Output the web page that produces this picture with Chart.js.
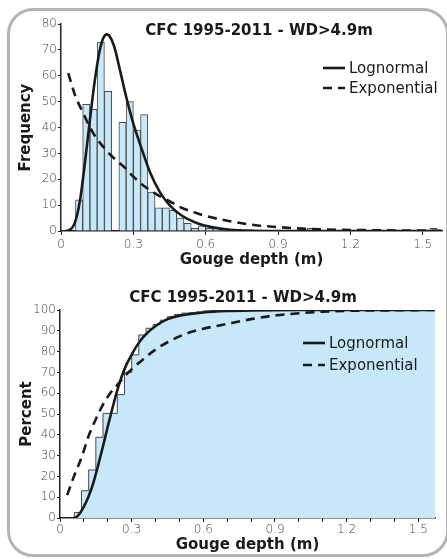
<!DOCTYPE html>
<html>
<head>
<meta charset="utf-8">
<script src="https://cdn.jsdelivr.net/npm/chart.js@4.4.1/dist/chart.umd.min.js"></script>
<style>
  html, body { margin:0; padding:0; background:#fff; }
  #wrap { position:relative; width:447px; height:559px; overflow:hidden; }
  #frame {
    position:absolute; left:7px; top:8px; width:442px; height:549px;
    border:3px solid #b4b4b4; border-radius:26px; box-sizing:border-box;
  }
  canvas { position:absolute; left:0; }
  #freqChart { top:0; }
  #pctChart { top:275px; }
</style>
</head>
<body>
<div id="wrap">
  <div id="frame"></div>
  <canvas id="freqChart" width="447" height="275"></canvas>
  <canvas id="pctChart" width="447" height="284"></canvas>
</div>
<script>

// =====================================
// DATA
// =====================================

const chartTitle = "CFC 1995-2011 - WD>4.9m";
const xTitle = "Gouge depth (m)";

// histogram (bin centres, 0.03 m bins)
const binMid = [0.075,0.105,0.135,0.165,0.195,0.225,0.255,0.285,0.315,0.345,0.375,0.405,0.435,0.465,0.495,0.525,0.555,0.585,0.615,0.645,0.675,1.035,1.545];
const binCount = [12,49,47,73,54,0,42,50,39,45,15,9,9,8,5,3,1,2,1,1,1,1,1];

// fitted curves, frequency
const lnDepth = [0.02,0.03,0.05,0.065,0.08,0.10,0.12,0.14,0.16,0.175,0.19,0.20,0.22,0.245,0.27,0.30,0.33,0.37,0.41,0.45,0.50,0.56,0.63,0.70,0.80,0.90,1.58];
const lnFreq = [0,0.2,1.7,5.5,12.5,27,43,58,69.5,74.5,76,75.5,71.5,62,52,41.5,33,22.5,15,10,6,3.2,1.4,0.5,0.1,0,0];

const expDepth = [0.03,0.06,0.09,0.12,0.15,0.18,0.21,0.24,0.27,0.30,0.35,0.40,0.45,0.50,0.55,0.60,0.70,0.80,0.90,1.00,1.10,1.20,1.30,1.40,1.58];
const expFreq = [61,52,46,40,35.5,32,29,26.5,24,21,17,14,11.5,9,7.3,5.8,3.8,2.3,1.5,0.9,0.6,0.4,0.3,0.2,0.1];

// cumulative (step edges)
const cdfEdge = [0.06,0.06,0.09,0.12,0.15,0.18,0.21,0.24,0.27,0.30,0.33,0.36,0.39,0.42,0.45,0.48,0.51,0.54,0.57,0.60,0.63,0.66,1.57];
const cdfPercent = [0,2.6,13.1,23.1,38.8,50.3,50.3,59.3,70.0,78.4,88.0,91.2,93.1,95.1,96.8,97.9,98.5,98.7,99.1,99.6,99.8,100,100];

// fitted curves, percent
const lnPctDepth = [0.055,0.07,0.08,0.10,0.12,0.14,0.16,0.18,0.20,0.22,0.24,0.26,0.28,0.30,0.32,0.35,0.40,0.45,0.50,0.60,0.70,0.80,1.00,1.57];
const lnPct = [0,0.5,1.8,5.5,10.5,17,25.5,34.5,44,53,61.5,68.5,74.2,78.5,82.5,87.2,92.3,95.6,97.3,98.8,99.5,99.8,100,100];

const expPctDepth = [0.03,0.06,0.09,0.12,0.15,0.18,0.21,0.24,0.27,0.30,0.35,0.40,0.45,0.50,0.55,0.60,0.70,0.80,0.90,1.00,1.10,1.20,1.35,1.57];
const expPct = [11,20.5,29,39.5,47.5,54.5,60,64,68,71.5,76.5,81,84.5,87.3,89.5,91,93.3,95.6,97.4,98.4,99.2,99.6,99.8,100];


// =====================================
// HELPERS
// =====================================

const pts = (xs, ys) => xs.map((x, i) => ({ x, y: ys[i] }));

const ink = "#1a1a1a";
const tickFont = { family: "DejaVu Sans", size: 12, weight: 200 };
const titleFont = { family: "DejaVu Sans", size: 15, weight: "bold" };

function depthLabel(v){
  const t = Math.round(v * 10);
  if(t % 3 !== 0) return "";
  return t === 0 ? "0" : (t / 10).toFixed(1);
}

// title + legend inside the plot
const panelDecor = {
  id: "panelDecor",
  afterDraw(chart, args, opts){
    const ctx = chart.ctx;
    ctx.save();
    ctx.fillStyle = ink;
    ctx.textBaseline = "middle";
    ctx.font = "bold 15px 'DejaVu Sans'";
    ctx.textAlign = "center";
    ctx.fillText(opts.title, opts.titleX, opts.titleY);

    ctx.font = "15px 'DejaVu Sans'";
    ctx.textAlign = "left";
    const lines = chart.data.datasets.filter(d => d.inLegend);
    lines.forEach((d, i) => {
      const y = opts.legendY + i * opts.legendGap;
      ctx.beginPath();
      ctx.setLineDash(d.borderDash || []);
      ctx.lineWidth = 2.6;
      ctx.strokeStyle = ink;
      ctx.moveTo(opts.legendX, y);
      ctx.lineTo(opts.legendX + 22, y);
      ctx.stroke();
      ctx.setLineDash([]);
      ctx.fillText(d.label, opts.legendX + 26, y + 1);
    });
    ctx.restore();
  }
};

function axes(o){
  return {
    x: {
      type: "linear",
      min: 0,
      max: o.xMax,
      offset: false,
      ticks: {
        stepSize: o.xStep,
        includeBounds: false,
        autoSkip: false,
        maxRotation: 0,
        padding: o.xPad,
        color: "#444",
        font: tickFont,
        callback: depthLabel
      },
      grid: { offset: false, drawOnChartArea: false, tickLength: 4, color: "#222" },
      border: { color: "#222", width: 1.5 },
      title: {
        display: true, text: xTitle, color: ink, font: titleFont,
        padding: { top: 0, bottom: o.xTitlePad }
      },
      afterFit(s){ s.height = o.xHeight; }
    },
    y: {
      min: 0,
      max: o.yMax,
      ticks: { stepSize: 10, padding: 1, color: "#444", font: tickFont },
      grid: { drawOnChartArea: false, tickLength: 3, color: "#222" },
      border: { color: "#222", width: 1.5 },
      title: {
        display: true, text: o.yTitle, color: ink, font: titleFont,
        padding: { top: o.yTitlePad, bottom: 0 }
      },
      afterFit(s){ s.width = o.yWidth; }
    }
  };
}

Chart.defaults.font.family = "DejaVu Sans";


// =====================================
// FREQUENCY CHART
// =====================================

new Chart(document.getElementById("freqChart"), {
  type: "line",
  data: {
    datasets: [
      {
        type: "bar",
        label: "Observed",
        data: pts(binMid, binCount),
        backgroundColor: "#c6e8f8",
        borderColor: "#4a4a4a",
        borderWidth: 1,
        barPercentage: 1,
        categoryPercentage: 1,
        order: 3
      },
      {
        label: "Lognormal",
        inLegend: true,
        data: pts(lnDepth, lnFreq),
        borderColor: ink,
        borderWidth: 2.6,
        pointRadius: 0,
        cubicInterpolationMode: "monotone",
        fill: false,
        order: 1
      },
      {
        label: "Exponential",
        inLegend: true,
        data: pts(expDepth, expFreq),
        borderColor: ink,
        borderWidth: 2.6,
        borderDash: [9, 6],
        pointRadius: 0,
        cubicInterpolationMode: "monotone",
        fill: false,
        order: 2
      }
    ]
  },
  options: {
    responsive: false,
    animation: false,
    layout: { padding: { left: 0, top: 24, right: 5, bottom: 0 } },
    plugins: {
      legend: { display: false },
      tooltip: { enabled: false },
      panelDecor: {
        title: chartTitle, titleX: 259, titleY: 31.5,
        legendX: 323, legendY: 68, legendGap: 20
      }
    },
    scales: axes({
      xMax: 1.58, xStep: 0.3, xPad: 3, xHeight: 44, xTitlePad: 6,
      yMax: 80, yTitle: "Frequency", yTitlePad: 17, yWidth: 61
    })
  },
  plugins: [panelDecor]
});


// =====================================
// PERCENT CHART
// =====================================

new Chart(document.getElementById("pctChart"), {
  type: "line",
  data: {
    datasets: [
      {
        label: "Observed",
        data: pts(cdfEdge, cdfPercent),
        stepped: true,
        fill: "origin",
        backgroundColor: "#c6e8f8",
        borderColor: "#4a4a4a",
        borderWidth: 1,
        pointRadius: 0,
        order: 3
      },
      {
        label: "Lognormal",
        inLegend: true,
        data: pts(lnPctDepth, lnPct),
        borderColor: ink,
        borderWidth: 2.6,
        pointRadius: 0,
        cubicInterpolationMode: "monotone",
        fill: false,
        order: 1
      },
      {
        label: "Exponential",
        inLegend: true,
        data: pts(expPctDepth, expPct),
        borderColor: ink,
        borderWidth: 2.6,
        borderDash: [9, 6],
        pointRadius: 0,
        cubicInterpolationMode: "monotone",
        fill: false,
        order: 2
      }
    ]
  },
  options: {
    responsive: false,
    animation: false,
    layout: { padding: { left: 0, top: 35, right: 12, bottom: 0 } },
    plugins: {
      legend: { display: false },
      tooltip: { enabled: false },
      panelDecor: {
        title: chartTitle, titleX: 243, titleY: 23.5,
        legendX: 303, legendY: 68, legendGap: 22
      }
    },
    scales: axes({
      xMax: 1.57, xStep: 0.1, xPad: 1, xHeight: 41, xTitlePad: 5,
      yMax: 100, yTitle: "Percent", yTitlePad: 18, yWidth: 60
    })
  },
  plugins: [panelDecor]
});

</script>
</body>
</html>
